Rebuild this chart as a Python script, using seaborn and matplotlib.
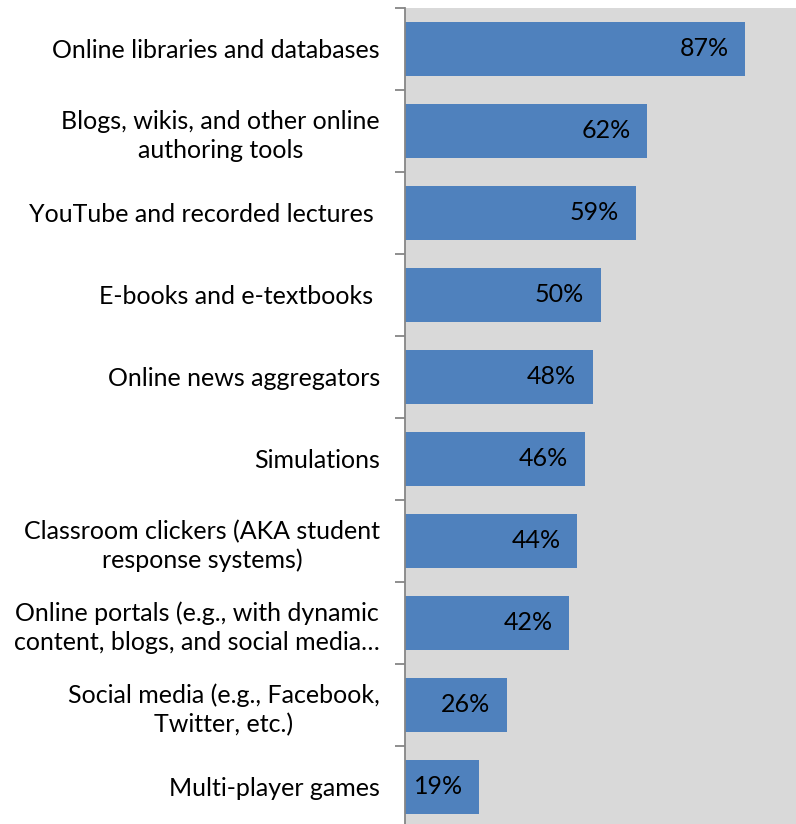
import matplotlib
matplotlib.use("Agg")
import matplotlib.pyplot as plt
import seaborn as sns
import pandas as pd
import numpy as np

# data
categories = [
    "Online libraries and databases",
    "Blogs, wikis, and other online\nauthoring tools",
    "YouTube and recorded lectures ",
    "E-books and e-textbooks ",
    "Online news aggregators",
    "Simulations",
    "Classroom clickers (AKA student\nresponse systems)",
    "Online portals (e.g., with dynamic\ncontent, blogs, and social media\u2026",
    "Social media (e.g., Facebook,\nTwitter, etc.)",
    "Multi-player games",
]
values = [87, 62, 59, 50, 48, 46, 44, 42, 26, 19]

df = pd.DataFrame({"cat": categories, "val": values})

sns.set_style("white")
plt.rcParams['font.family'] = ['Lato', 'DejaVu Sans']

fig = plt.figure(figsize=(7.96, 8.24), dpi=100)
ax = fig.add_axes([405 / 796, -4 / 824, 1 - 405 / 796, 820 / 824])
ax.set_facecolor('#d9d9d9')

sns.barplot(data=df, y='cat', x='val', orient='h', color='#4f81bd',
            saturation=1, width=0.667, linewidth=0, ax=ax)
ax.set_xlim(0, 100)
ax.set_xlabel('')
ax.set_ylabel('')
ax.set_xticks([])

# value labels inside bar end
for i, v in enumerate(values):
    ax.annotate(f"{v}%", xy=(v, i), xytext=(-12, 0), textcoords='offset points',
                ha='right', va='center', fontsize=18, color='black')

# category ticks: labels at centers, small marks at boundaries
ax.set_yticks(np.arange(len(categories)))
ax.set_yticks(np.arange(len(categories) + 1) - 0.5, minor=True)
ax.tick_params(axis='y', which='major', length=0, pad=18, labelsize=18,
               labelcolor='black')
ax.tick_params(axis='y', which='minor', length=7, width=1.3, color='#868686', left=True)
for lbl in ax.get_yticklabels():
    lbl.set_multialignment('center')
    lbl.set_linespacing(1.3)

for s in ['top', 'right', 'bottom']:
    ax.spines[s].set_visible(False)
ax.spines['left'].set_color('#868686')
ax.spines['left'].set_linewidth(1.3)

fig.savefig('out.png', dpi=100)
